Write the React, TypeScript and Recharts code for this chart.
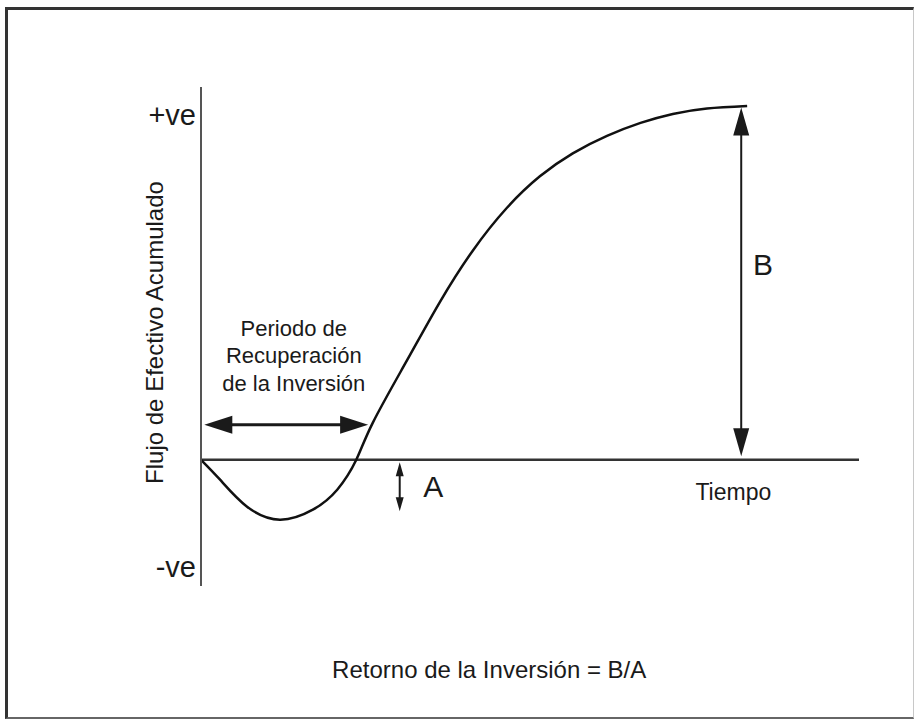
import {
  LineChart,
  Line,
  XAxis,
  YAxis,
  ReferenceLine,
  ReferenceDot,
} from "recharts";

const FONT = "'Liberation Sans', Arial, sans-serif";
const INK = "#1a1a1a";

// cumulative cash flow curve
const timePoints = [0, 2.9, 7.0, 12.0, 17.0, 20.7, 23.6, 26.1, 31.3, 36.3, 41.3, 46.5, 51.5, 56.5, 61.7, 66.8, 71.7, 76.9, 83.0];
const cumulativeCash = [0, -4.0, -9.4, -12.0, -10.0, -6.0, 0, 7.4, 19.9, 31.6, 41.9, 50.5, 56.8, 61.4, 64.9, 67.5, 69.3, 70.4, 70.9];

const yTickValues = [69.1, -21.5];
const yTickLabels = ["+ve", "-ve"];
const yAxisTitle = "Flujo de Efectivo Acumulado";

const paybackLines = ["Periodo de", "Recuperación", "de la Inversión"];
const paybackLineX = [14.1, 14.1, 14.1];
const paybackLineY = [26.4, 20.9, 15.3];
const paybackArrow = [{ x: 0.5, y: 7.0 }, { x: 25.4, y: 7.0 }];

const arrowA = [{ x: 30.2, y: -0.5 }, { x: 30.2, y: -10.3 }];
const arrowB = [{ x: 82.1, y: 0.7 }, { x: 82.1, y: 70.6 }];

const letterLabels = ["A", "B"];
const letterX = [35.3, 85.4];
const letterY = [-5.4, 39.2];

const timeLabel = "Tiempo";
const timeLabelPos = { x: 80.9, y: -6.5 };

const formulaLabel = "Retorno de la Inversión = B/A";
const formulaPos = { x: 43.8, y: -42.1 };

const data = timePoints.map((t, i) => ({ t, cash: cumulativeCash[i] }));

function makeArrow(headLen: number, headHalf: number, width: number) {
  return (p: any) => {
    const { x1, y1, x2, y2 } = p;
    const dx = x2 - x1;
    const dy = y2 - y1;
    const len = Math.sqrt(dx * dx + dy * dy) || 1;
    const ux = dx / len;
    const uy = dy / len;
    const nx = -uy;
    const ny = ux;
    const head = (tx: number, ty: number, dir: number) => {
      const bx = tx - dir * ux * headLen;
      const by = ty - dir * uy * headLen;
      return `${tx},${ty} ${bx + nx * headHalf},${by + ny * headHalf} ${bx - nx * headHalf},${by - ny * headHalf}`;
    };
    return (
      <g>
        <line
          x1={x1 + ux * (headLen - 2)}
          y1={y1 + uy * (headLen - 2)}
          x2={x2 - ux * (headLen - 2)}
          y2={y2 - uy * (headLen - 2)}
          stroke={INK}
          strokeWidth={width}
        />
        <polygon points={head(x1, y1, -1)} fill={INK} />
        <polygon points={head(x2, y2, 1)} fill={INK} />
      </g>
    );
  };
}

const renderYTitle = (props: any) => {
  const vb = props.viewBox;
  const cx = vb.x + 13;
  const cy = vb.y + vb.height / 2 - 4;
  return (
    <text
      x={cx}
      y={cy}
      transform={`rotate(-90 ${cx} ${cy})`}
      textAnchor="middle"
      dominantBaseline="central"
      fontSize={24}
      fontFamily={FONT}
      fill={INK}
    >
      {yAxisTitle}
    </text>
  );
};

export default function App() {
  return (
    <div
      style={{
        position: "absolute",
        left: 0,
        top: 0,
        width: 914,
        height: 719,
        background: "#fff",
      }}
    >
      <LineChart
        width={914}
        height={719}
        data={data}
        margin={{ top: 87, right: 55, left: 141, bottom: 133 }}
      >
        <XAxis type="number" dataKey="t" domain={[0, 100]} hide />
        <YAxis
          type="number"
          domain={[-25.3, 74.7]}
          ticks={yTickValues}
          tickFormatter={(v: number) => yTickLabels[yTickValues.indexOf(v)]}
          width={60}
          axisLine={{ stroke: "#555", strokeWidth: 2 }}
          tickLine={false}
          tickSize={3}
          tickMargin={2}
          tick={{ fill: INK, fontSize: 29, fontFamily: FONT }}
          label={renderYTitle}
        />
        <ReferenceLine y={0} stroke="#333" strokeWidth={2.5} />

        <ReferenceLine segment={paybackArrow} shape={makeArrow(28, 9, 3)} />
        <ReferenceLine segment={arrowA} shape={makeArrow(14, 4, 2)} />
        <ReferenceLine segment={arrowB} shape={makeArrow(28, 8, 2)} />

        {paybackLines.map((txt, i) => (
          <ReferenceDot
            key={txt}
            x={paybackLineX[i]}
            y={paybackLineY[i]}
            r={0}
            fill="none"
            stroke="none"
            label={{ value: txt, position: "center", fontSize: 22, fontFamily: FONT, fill: INK }}
          />
        ))}
        {letterLabels.map((txt, i) => (
          <ReferenceDot
            key={txt}
            x={letterX[i]}
            y={letterY[i]}
            r={0}
            fill="none"
            stroke="none"
            label={{ value: txt, position: "center", fontSize: 30, fontFamily: FONT, fill: INK }}
          />
        ))}
        <ReferenceDot
          x={timeLabelPos.x}
          y={timeLabelPos.y}
          r={0}
          fill="none"
          stroke="none"
          label={{ value: timeLabel, position: "center", fontSize: 23, fontFamily: FONT, fill: INK }}
        />
        <ReferenceDot
          x={formulaPos.x}
          y={formulaPos.y}
          r={0}
          fill="none"
          stroke="none"
          ifOverflow="visible"
          label={{ value: formulaLabel, position: "center", fontSize: 24, fontFamily: FONT, fill: INK }}
        />

        <Line
          type="natural"
          dataKey="cash"
          stroke="#111"
          strokeWidth={2.5}
          dot={false}
          isAnimationActive={false}
        />
      </LineChart>
      <div
        style={{
          position: "absolute",
          left: 5,
          top: 7,
          width: 905,
          height: 707,
          borderTop: "3px solid #333",
          borderLeft: "3px solid #333",
          borderRight: "1px solid #c8c8c8",
          borderBottom: "2px solid #666",
          pointerEvents: "none",
        }}
      />
    </div>
  );
}
